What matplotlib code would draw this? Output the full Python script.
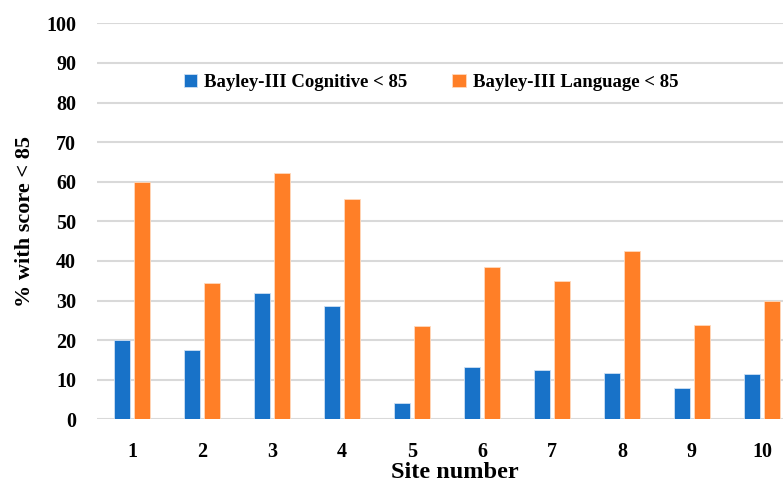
import matplotlib.pyplot as plt
import numpy as np

sites = ["1", "2", "3", "4", "5", "6", "7", "8", "9", "10"]
cognitive = [20.0, 17.5, 32.0, 28.6, 4.1, 13.3, 12.5, 11.7, 8.0, 11.5]
language = [60.0, 34.5, 62.2, 55.7, 23.6, 38.4, 34.9, 42.5, 23.8, 29.8]
yticks = [0, 10, 20, 30, 40, 50, 60, 70, 80, 90, 100]

blue = "#1872C8"
orange = "#FF7F27"
font = "Liberation Serif"

fig = plt.figure(figsize=(7.83, 4.86), dpi=100)
ax = fig.add_axes([97 / 783, 1 - 419.3 / 486, 1 - 97 / 783, (419.3 - 23.3) / 486])

x = np.arange(1, len(sites) + 1)
w = 0.22
ax.bar(x - 0.143, cognitive, w, color=blue, edgecolor="#cfe0f3", linewidth=0.6,
       label="Bayley-III Cognitive < 85", zorder=3)
ax.bar(x + 0.143, language, w, color=orange, edgecolor="#ffd9bd", linewidth=0.6,
       label="Bayley-III Language < 85", zorder=3)

ax.set_xlim(0.5, 10.3)
ax.set_ylim(0, 100)
ax.set_yticks(yticks)
ax.set_xticks(x)
ax.set_xticklabels(sites)
ax.yaxis.grid(True, color="#d9d9d9", linewidth=1.5, zorder=0)
ax.set_axisbelow(True)
for s in ax.spines.values():
    s.set_visible(False)
ax.tick_params(axis="y", length=0, pad=15)
ax.tick_params(axis="x", length=0, pad=16)
for lab in ax.get_xticklabels() + ax.get_yticklabels():
    lab.set_fontfamily(font)
    lab.set_fontweight("bold")
    lab.set_fontsize(14.5)

xl = ax.set_xlabel("Site number", fontfamily=font, fontweight="bold", fontsize=17.5, labelpad=0)
xl.set_x(0.522)
ax.set_ylabel("% with score < 85", fontfamily=font, fontweight="bold", fontsize=16, labelpad=8)

leg = ax.legend(loc="center", bbox_to_anchor=(0.487, 0.85), ncol=2, frameon=False,
                prop={"family": font, "weight": "bold", "size": 13.5},
                handlelength=0.7, handleheight=0.7, handletextpad=0.4, columnspacing=2.4)

fig.savefig("out.png", dpi=100)
